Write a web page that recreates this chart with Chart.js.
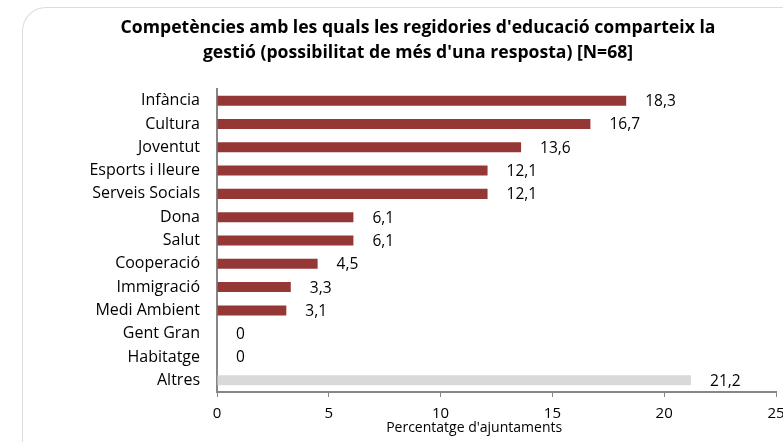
<!DOCTYPE html>
<html>
<head>
<meta charset="utf-8">
<script src="https://cdn.jsdelivr.net/npm/chart.js@4.4.1/dist/chart.umd.min.js"></script>
<style>
    html, body { margin: 0; padding: 0; background: #fff; overflow: hidden; }
    #wrap { position: relative; width: 783px; height: 442px; }
    /* rounded frame around the chart, open to the right and bottom */
    #frame {
        position: absolute; left: 22px; top: 7px; width: 800px; height: 480px;
        border-left: 1px solid #dcdcdc; border-top: 1px solid #dcdcdc;
        border-top-left-radius: 24px; box-sizing: border-box;
    }
    canvas { position: absolute; left: 0; top: 0; }
</style>
</head>
<body>
<div id="wrap">
    <div id="frame"></div>
    <canvas id="chart" width="783" height="442"></canvas>
</div>
<script>
const categories = ['Infància', 'Cultura', 'Joventut', 'Esports i lleure', 'Serveis Socials', 'Dona', 'Salut',
    'Cooperació', 'Immigració', 'Medi Ambient', 'Gent Gran', 'Habitatge', 'Altres'];
const values = [18.3, 16.7, 13.6, 12.1, 12.1, 6.1, 6.1, 4.5, 3.3, 3.1, 0, 0, 21.2];
const xTicks = [0, 5, 10, 15, 20, 25];
const titleLines = ["Competències amb les quals les regidories d'educació comparteix la",
    "gestió (possibilitat de més d'una resposta) [N=68]"];
const axisTitle = "Percentatge d'ajuntaments";

const FONT = '"Open Sans", Lato, sans-serif';
const barColors = categories.map(c => c === 'Altres' ? '#d9d9d9' : '#953735');

function fmt(v) {
    return String(v).replace('.', ',');
}

// value labels next to each bar plus the x axis caption
const labelsPlugin = {
    id: 'barLabels',
    afterDatasetsDraw(chart) {
        const ctx = chart.ctx;
        const meta = chart.getDatasetMeta(0);
        ctx.save();
        ctx.font = '15.5px ' + FONT;
        ctx.fillStyle = '#000';
        ctx.textAlign = 'left';
        ctx.textBaseline = 'middle';
        meta.data.forEach((bar, i) => {
            ctx.fillText(fmt(values[i]), bar.x + 19, bar.y + 1);
        });
        ctx.font = '14px ' + FONT;
        ctx.textAlign = 'center';
        ctx.fillText(axisTitle, chart.scales.x.getPixelForValue(11.5), 428);
        ctx.restore();
    }
};

new Chart(document.getElementById('chart'), {
    type: 'bar',
    data: {
        labels: categories,
        datasets: [{
            data: values,
            backgroundColor: barColors,
            barPercentage: 0.43,
            categoryPercentage: 1
        }]
    },
    options: {
        indexAxis: 'y',
        responsive: false,
        animation: false,
        // left padding pushes the title towards the middle of the frame
        layout: { padding: { left: 60, right: 7, top: 0, bottom: 0 } },
        plugins: {
            legend: { display: false },
            tooltip: { enabled: false },
            title: {
                display: true,
                text: titleLines,
                color: '#000',
                font: { family: FONT, size: 17.6, weight: 'bold', lineHeight: 1.42 },
                padding: { top: 15, bottom: 24 }
            }
        },
        scales: {
            x: {
                min: 0, max: 25,
                afterBuildTicks: s => { s.ticks = xTicks.map(v => ({ value: v })); },
                afterFit: s => { s.height = 50; s.paddingLeft = 0; s.paddingRight = 0; },
                border: { display: true, color: '#868686', width: 2 },
                grid: { drawOnChartArea: false, drawTicks: true, tickLength: 5, color: '#868686', lineWidth: 1 },
                ticks: { color: '#000', padding: 8, maxRotation: 0, font: { family: FONT, size: 15 } }
            },
            y: {
                afterFit: s => { s.width = 157; },
                border: { display: true, color: '#868686', width: 2 },
                grid: { display: false },
                ticks: { color: '#000', padding: 9, font: { family: FONT, size: 16 } }
            }
        }
    },
    plugins: [labelsPlugin]
});
</script>
</body>
</html>
